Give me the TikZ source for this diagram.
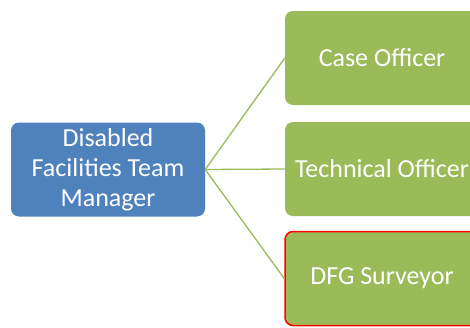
\documentclass[tikz,border=0pt]{standalone}
\usepackage{fontspec}
\setmainfont{Carlito}
\usetikzlibrary{positioning}

\definecolor{mgrblue}{HTML}{4F81BD}
\definecolor{staffgreen}{HTML}{9BBB59}
\definecolor{markred}{HTML}{FF0000}

\tikzset{
  rolebox/.style={rectangle, rounded corners=8pt, minimum width=194pt, minimum height=94pt,
    text=white, font=\fontsize{26}{30}\selectfont, align=center, inner sep=0pt},
  link/.style={draw=staffgreen, line width=1.3pt}
}

\begin{document}
\begin{tikzpicture}[x=1pt, y=-1pt]
    \clip (0,0) rectangle (470,327);

    % Manager
    \node[rolebox, fill=mgrblue] (manager) at (108,169.5) {Disabled\\Facilities Team\\Manager};

    % Staff
    \node[rolebox, fill=staffgreen] (caseoff) at (382,58) {Case Officer};
    \node[rolebox, fill=staffgreen] (techoff) at (382,169) {Technical Officer};
    \node[rolebox, fill=staffgreen, draw=markred, line width=1.5pt] (surveyor) at (382,278.5) {DFG Surveyor};

    % Links
    \draw[link] (manager.east) -- (caseoff.west);
    \draw[link] (manager.east) -- (techoff.west);
    \draw[link] (manager.east) -- (surveyor.west);
\end{tikzpicture}
\end{document}
